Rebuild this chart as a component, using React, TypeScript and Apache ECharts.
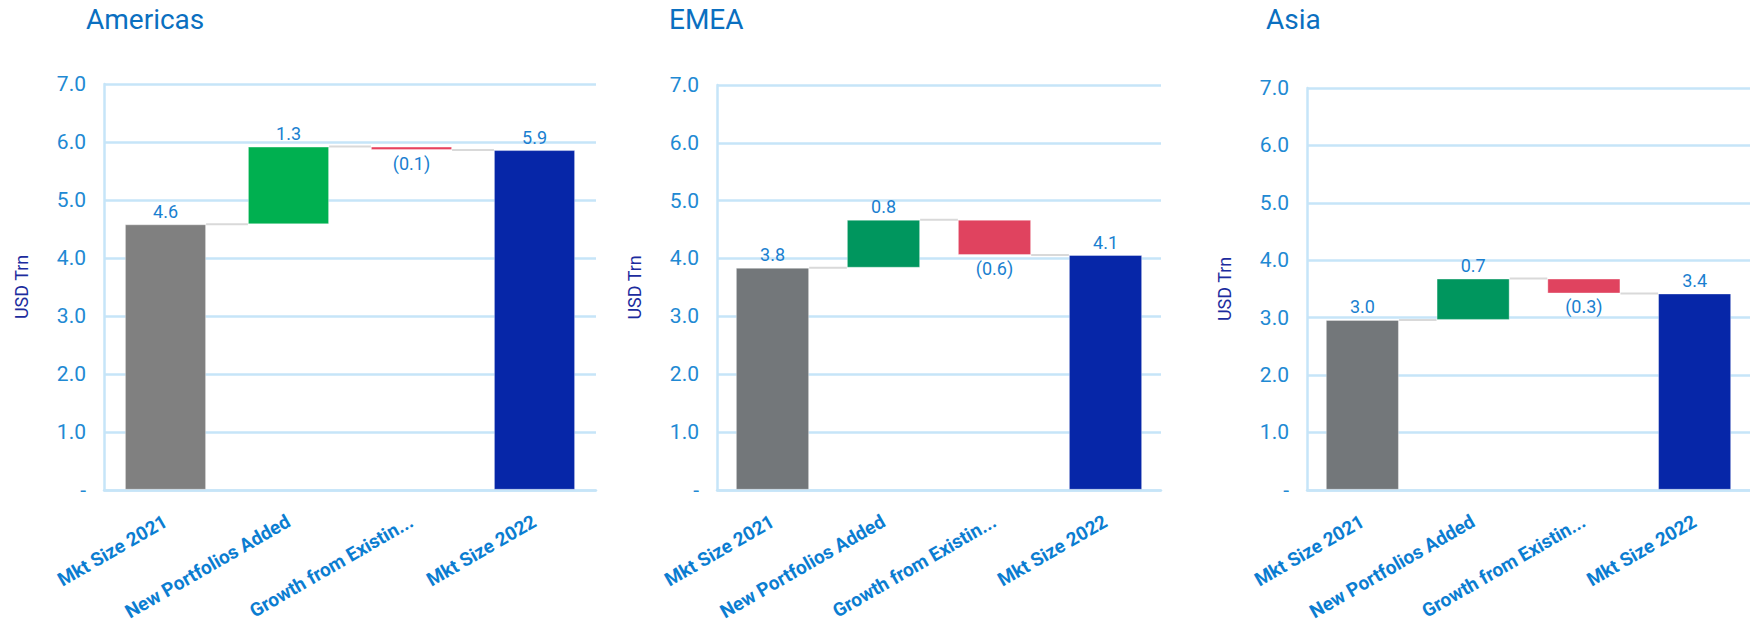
import React, { useEffect, useRef } from "react";
import * as echarts from "echarts";

const categories = ["Mkt Size 2021", "New Portfolios Added", "Growth from Existin...", "Mkt Size 2022"];
const regionNames = ["Americas", "EMEA", "Asia"];
const americasValues = [4.58, 1.34, -0.06, 5.86];
const emeaValues = [3.84, 0.83, -0.61, 4.06];
const asiaValues = [2.96, 0.72, -0.26, 3.42];
const yTickValues = [0, 1, 2, 3, 4, 5, 6, 7];
const americasColors = ["#808080", "#00b050", "#e8435f", "#0626a8"];
const emeaColors = ["#73777a", "#00965e", "#e0435f", "#0626a8"];
const asiaColors = ["#73777a", "#00965e", "#e0435f", "#0626a8"];

const grids = [
  { left: 104, top: 84, width: 492, height: 410 },
  { left: 717, top: 85, width: 444, height: 407 },
  { left: 1307, top: 88, width: 446, height: 408 },
];
const titlePos = [
  { left: 86, top: 5 },
  { left: 669, top: 5 },
  { left: 1266, top: 5 },
];

const GRID_BLUE = "#c6e5f8";
const TICK_BLUE = "#2189d3";
const LABEL_BLUE = "#1a7fd0";
const XLABEL_BLUE = "#0b7dd1";
const FONT = "Roboto";

function fmt(v: number) {
  return v < 0 ? `(${Math.abs(v).toFixed(1)})` : v.toFixed(1);
}

function buildWaterfall(values: number[]) {
  const base: number[] = [];
  const height: number[] = [];
  const levels: number[] = [];
  let running = 0;
  values.forEach((v, i) => {
    if (i === 0 || i === values.length - 1) {
      base.push(0);
      height.push(v);
      running = v;
    } else if (v >= 0) {
      base.push(running);
      height.push(v);
      running += v;
    } else {
      running += v;
      base.push(running);
      height.push(-v);
    }
    levels.push(running);
  });
  return { base, height, levels };
}

export default function App() {
  const ref = useRef<HTMLDivElement>(null);
  useEffect(() => {
    if (!ref.current) return;
    const chart = echarts.init(ref.current, null, { renderer: "svg" });
    const allValues = [americasValues, emeaValues, asiaValues];
    const allColors = [americasColors, emeaColors, asiaColors];

    const series: any[] = [];
    const xAxes: any[] = [];
    const yAxes: any[] = [];
    allValues.forEach((vals, r) => {
      const wf = buildWaterfall(vals);
      xAxes.push({
        type: "category",
        gridIndex: r,
        data: categories,
        axisLine: { show: true, lineStyle: { color: GRID_BLUE, width: 2.5 } },
        axisTick: { show: false },
        splitLine: { show: false },
        axisLabel: {
          interval: 0,
          rotate: 30,
          margin: 30,
          fontSize: 19,
          fontWeight: "bold",
          fontFamily: FONT,
          color: XLABEL_BLUE,
        },
      });
      yAxes.push({
        type: "value",
        gridIndex: r,
        min: 0,
        max: 7,
        interval: 1,
        name: "USD Trn",
        nameLocation: "middle",
        nameGap: 74,
        nameRotate: 90,
        nameTextStyle: { color: "#1c2c9e", fontSize: 18, fontFamily: FONT },
        axisLine: { show: true, lineStyle: { color: GRID_BLUE, width: 2.5 } },
        axisTick: { show: false },
        splitLine: { show: true, lineStyle: { color: GRID_BLUE, width: 2.5 } },
        axisLabel: {
          margin: 18,
          fontSize: 21,
          fontFamily: FONT,
          color: TICK_BLUE,
          formatter: (v: number) => (yTickValues.indexOf(v) === 0 ? "-" : v.toFixed(1)),
        },
      });
      series.push({
        type: "custom",
        xAxisIndex: r,
        yAxisIndex: r,
        z: 1,
        clip: false,
        data: wf.levels.slice(0, vals.length - 1).map((l, i) => [i, l]),
        renderItem: (params: any, api: any) => {
          const i = api.value(0);
          const lvl = api.value(1);
          const p1 = api.coord([i, lvl]);
          const p2 = api.coord([i + 1, lvl]);
          const bw = api.size([1, 0])[0] * 0.66;
          return {
            type: "line",
            shape: { x1: p1[0] + bw / 2, y1: p1[1], x2: p2[0] - bw / 2, y2: p2[1] },
            style: { stroke: "#d9d9d9", lineWidth: 2 },
          };
        },
        silent: true,
      });
      series.push({
        type: "bar",
        xAxisIndex: r,
        yAxisIndex: r,
        stack: "wf" + r,
        barWidth: "66%",
        silent: true,
        itemStyle: { color: "transparent" },
        data: wf.base,
      });
      series.push({
        type: "bar",
        xAxisIndex: r,
        yAxisIndex: r,
        stack: "wf" + r,
        barWidth: "66%",
        z: 3,
        data: wf.height.map((h, i) => ({
          value: h,
          itemStyle: {
            color: allColors[r][i],
            borderColor: "rgba(255,255,255,0.35)",
            borderWidth: 1,
          },
          label: {
            show: true,
            position: vals[i] < 0 ? "bottom" : "top",
            distance: 4,
            formatter: fmt(vals[i]),
            fontSize: 18,
            fontFamily: FONT,
            color: LABEL_BLUE,
          },
        })),
      });
    });

    chart.setOption({
      animation: false,
      backgroundColor: "#ffffff",
      title: regionNames.map((name, r) => ({
        text: name,
        left: titlePos[r].left,
        top: titlePos[r].top,
        padding: 0,
        textStyle: { fontSize: 28, fontWeight: "normal", color: "#0a6fc0", fontFamily: FONT },
      })),
      grid: grids.map((g) => ({ ...g, containLabel: false })),
      xAxis: xAxes,
      yAxis: yAxes,
      series,
    });
    return () => chart.dispose();
  }, []);
  return (
    <div
      ref={ref}
      style={{ position: "fixed", left: 0, top: 0, width: 1750, height: 623, background: "#fff" }}
    />
  );
}
